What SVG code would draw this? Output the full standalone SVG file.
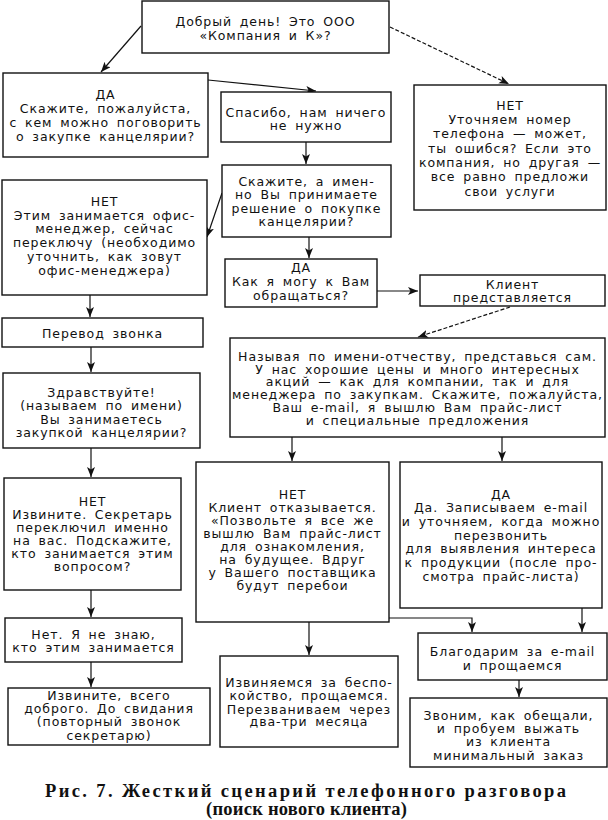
<svg xmlns="http://www.w3.org/2000/svg" width="608" height="820" viewBox="0 0 608 820">
<defs>
<style>
.b{fill:#fff;stroke:#111;stroke-width:1.4}
.t{font-family:"DejaVu Sans",Verdana,sans-serif;font-size:12.5px;letter-spacing:0.9px;word-spacing:3px;text-anchor:middle;fill:#111}
.c{fill:none;stroke:#111;stroke-width:1.2}
.d{stroke-dasharray:4 2}
.g{stroke:#888;stroke-width:2}
.cap{font-family:"Liberation Serif","Times New Roman",serif;font-size:18.5px;font-weight:bold;text-anchor:middle;fill:#111}
</style>
<marker id="ah" markerWidth="11" markerHeight="9" refX="10" refY="4" orient="auto" markerUnits="userSpaceOnUse">
<path d="M0,0 L10,4 L0,8 L2.5,4 z" fill="#111"/>
</marker>
</defs>
<rect width="608" height="820" fill="#fff"/>

<g id="connectors" marker-end="url(#ah)">
<line class="c" x1="141" y1="26" x2="101" y2="72"/>
<line class="c" x1="208" y1="80" x2="316" y2="91"/>
<line class="c d" x1="390" y1="27" x2="509" y2="84"/>
<line class="c" x1="306" y1="142" x2="306" y2="164"/>
<line class="c" x1="222" y1="193" x2="207" y2="237"/>
<line class="c" x1="309" y1="237" x2="309" y2="258"/>
<line class="c g" x1="377" y1="291" x2="418" y2="291"/>
<line class="c d" x1="510" y1="307" x2="418" y2="337"/>
<line class="c" x1="90" y1="295" x2="90" y2="317"/>
<line class="c" x1="91" y1="347" x2="91" y2="372"/>
<line class="c" x1="91" y1="448" x2="91" y2="477"/>
<line class="c" x1="91" y1="590" x2="91" y2="617"/>
<line class="c" x1="91" y1="662" x2="91" y2="687"/>
<line class="c" x1="292" y1="437" x2="292" y2="461"/>
<line class="c" x1="502" y1="437" x2="502" y2="461"/>
<line class="c" x1="309" y1="622" x2="309" y2="655"/>
<polyline class="c" points="389,618 472,618 472,632"/>
<line class="c" x1="582" y1="608" x2="582" y2="632"/>
<line class="c" x1="519" y1="680" x2="519" y2="697"/>
</g>

<g id="n-start">
<rect class="b" x="142" y="1" width="247" height="52"/>
<text class="t" x="265.5" y="26">Добрый день! Это ООО</text>
<text class="t" x="265.5" y="39.5">«Компания и К»?</text>
</g>

<g id="n-da1">
<rect class="b" x="3" y="73" width="205" height="84"/>
<text class="t" x="105.5" y="99">ДА</text>
<text class="t" x="105.5" y="113">Скажите, пожалуйста,</text>
<text class="t" x="105.5" y="127">с кем можно поговорить</text>
<text class="t" x="105.5" y="141">о закупке канцелярии?</text>
</g>

<g id="n-spasibo">
<rect class="b" x="221" y="92" width="170" height="50"/>
<text class="t" x="306" y="116.5">Спасибо, нам ничего</text>
<text class="t" x="306" y="130">не нужно</text>
</g>

<g id="n-net-right">
<rect class="b" x="414" y="85" width="192" height="125"/>
<text class="t" x="510" y="109.5">НЕТ</text>
<text class="t" x="510" y="124">Уточняем номер</text>
<text class="t" x="510" y="138">телефона — может,</text>
<text class="t" x="510" y="152.5">ты ошибся? Если это</text>
<text class="t" x="510" y="166.5">компания, но другая —</text>
<text class="t" x="510" y="181">все равно предложи</text>
<text class="t" x="510" y="195.5">свои услуги</text>
</g>

<g id="n-skazhite">
<rect class="b" x="222" y="165" width="169" height="72"/>
<text class="t" x="306.5" y="185.5">Скажите, а имен-</text>
<text class="t" x="306.5" y="199">но Вы принимаете</text>
<text class="t" x="306.5" y="212.5">решение о покупке</text>
<text class="t" x="306.5" y="226">канцелярии?</text>
</g>

<g id="n-net-left">
<rect class="b" x="2" y="180" width="205" height="115"/>
<text class="t" x="104.5" y="206">НЕТ</text>
<text class="t" x="104.5" y="219.7">Этим занимается офис-</text>
<text class="t" x="104.5" y="233.4">менеджер, сейчас</text>
<text class="t" x="104.5" y="247.1">переключу (необходимо</text>
<text class="t" x="104.5" y="260.8">уточнить, как зовут</text>
<text class="t" x="104.5" y="274.5">офис-менеджера)</text>
</g>

<g id="n-da2">
<rect class="b" x="225" y="259" width="152" height="48"/>
<text class="t" x="301" y="271.5">ДА</text>
<text class="t" x="301" y="285.5">Как я могу к Вам</text>
<text class="t" x="301" y="299.5">обращаться?</text>
</g>

<g id="n-klient">
<rect class="b" x="420" y="275" width="185" height="31"/>
<text class="t" x="512.5" y="288.5">Клиент</text>
<text class="t" x="512.5" y="301.5">представляется</text>
</g>

<g id="n-perevod">
<rect class="b" x="2" y="318" width="201" height="29"/>
<text class="t" x="102.5" y="337.5">Перевод звонка</text>
</g>

<g id="n-nazyvaya">
<rect class="b" x="230" y="338" width="375" height="99"/>
<text class="t" x="417.5" y="361">Называя по имени-отчеству, представься сам.</text>
<text class="t" x="417.5" y="373.7">У нас хорошие цены и много интересных</text>
<text class="t" x="417.5" y="386.4">акций — как для компании, так и для</text>
<text class="t" x="417.5" y="399.1">менеджера по закупкам. Скажите, пожалуйста,</text>
<text class="t" x="417.5" y="411.8">Ваш e-mail, я вышлю Вам прайс-лист</text>
<text class="t" x="417.5" y="424.5">и специальные предложения</text>
</g>

<g id="n-zdrav">
<rect class="b" x="3" y="373" width="197" height="75"/>
<text class="t" x="101.5" y="396.5">Здравствуйте!</text>
<text class="t" x="101.5" y="410">(называем по имени)</text>
<text class="t" x="101.5" y="423.5">Вы занимаетесь</text>
<text class="t" x="101.5" y="437">закупкой канцелярии?</text>
</g>

<g id="n-net-izv">
<rect class="b" x="4" y="478" width="177" height="112"/>
<text class="t" x="92.5" y="505.5">НЕТ</text>
<text class="t" x="92.5" y="518.5">Извините. Секретарь</text>
<text class="t" x="92.5" y="531.5">переключил именно</text>
<text class="t" x="92.5" y="544.5">на вас. Подскажите,</text>
<text class="t" x="92.5" y="557.5">кто занимается этим</text>
<text class="t" x="92.5" y="570.5">вопросом?</text>
</g>

<g id="n-net-klient">
<rect class="b" x="196" y="462" width="193" height="160"/>
<text class="t" x="292.5" y="498.5">НЕТ</text>
<text class="t" x="292.5" y="511.5">Клиент отказывается.</text>
<text class="t" x="292.5" y="524.5">«Позвольте я все же</text>
<text class="t" x="292.5" y="537.5">вышлю Вам прайс-лист</text>
<text class="t" x="292.5" y="550.5">для ознакомления,</text>
<text class="t" x="292.5" y="563.5">на будущее. Вдруг</text>
<text class="t" x="292.5" y="576.5">у Вашего поставщика</text>
<text class="t" x="292.5" y="589.5">будут перебои</text>
</g>

<g id="n-da3">
<rect class="b" x="400" y="462" width="202" height="146"/>
<text class="t" x="501" y="498.5">ДА</text>
<text class="t" x="501" y="512.2">Да. Записываем e-mail</text>
<text class="t" x="501" y="525.9">и уточняем, когда можно</text>
<text class="t" x="501" y="539.6">перезвонить</text>
<text class="t" x="501" y="553.3">для выявления интереса</text>
<text class="t" x="501" y="567">к продукции (после про-</text>
<text class="t" x="501" y="580.7">смотра прайс-листа)</text>
</g>

<g id="n-net-ne-znayu">
<rect class="b" x="5" y="618" width="177" height="44"/>
<text class="t" x="93.5" y="638.5">Нет. Я не знаю,</text>
<text class="t" x="93.5" y="652">кто этим занимается</text>
</g>

<g id="n-izvinite">
<rect class="b" x="8" y="688" width="202" height="57"/>
<text class="t" x="109" y="699.5">Извините, всего</text>
<text class="t" x="109" y="712.5">доброго. До свидания</text>
<text class="t" x="109" y="726">(повторный звонок</text>
<text class="t" x="109" y="739.5">секретарю)</text>
</g>

<g id="n-izvinyaemsya">
<rect class="b" x="220" y="656" width="178" height="91"/>
<text class="t" x="309" y="687">Извиняемся за беспо-</text>
<text class="t" x="309" y="700">койство, прощаемся.</text>
<text class="t" x="309" y="713.5">Перезваниваем через</text>
<text class="t" x="309" y="726">два-три месяца</text>
</g>

<g id="n-blagodarim">
<rect class="b" x="418" y="633" width="189" height="47"/>
<text class="t" x="512.5" y="656">Благодарим за e-mail</text>
<text class="t" x="512.5" y="669.5">и прощаемся</text>
</g>

<g id="n-zvonim">
<rect class="b" x="410" y="698" width="197" height="69"/>
<text class="t" x="508.5" y="719.5">Звоним, как обещали,</text>
<text class="t" x="508.5" y="732.5">и пробуем выжать</text>
<text class="t" x="508.5" y="746">из клиента</text>
<text class="t" x="508.5" y="759.5">минимальный заказ</text>
</g>

<g id="caption">
<text class="cap" x="305.5" y="797" textLength="521" lengthAdjust="spacing">Рис. 7. Жесткий сценарий телефонного разговора</text>
<text class="cap" x="306.5" y="815" textLength="201" lengthAdjust="spacing">(поиск нового клиента)</text>
</g>
</svg>
